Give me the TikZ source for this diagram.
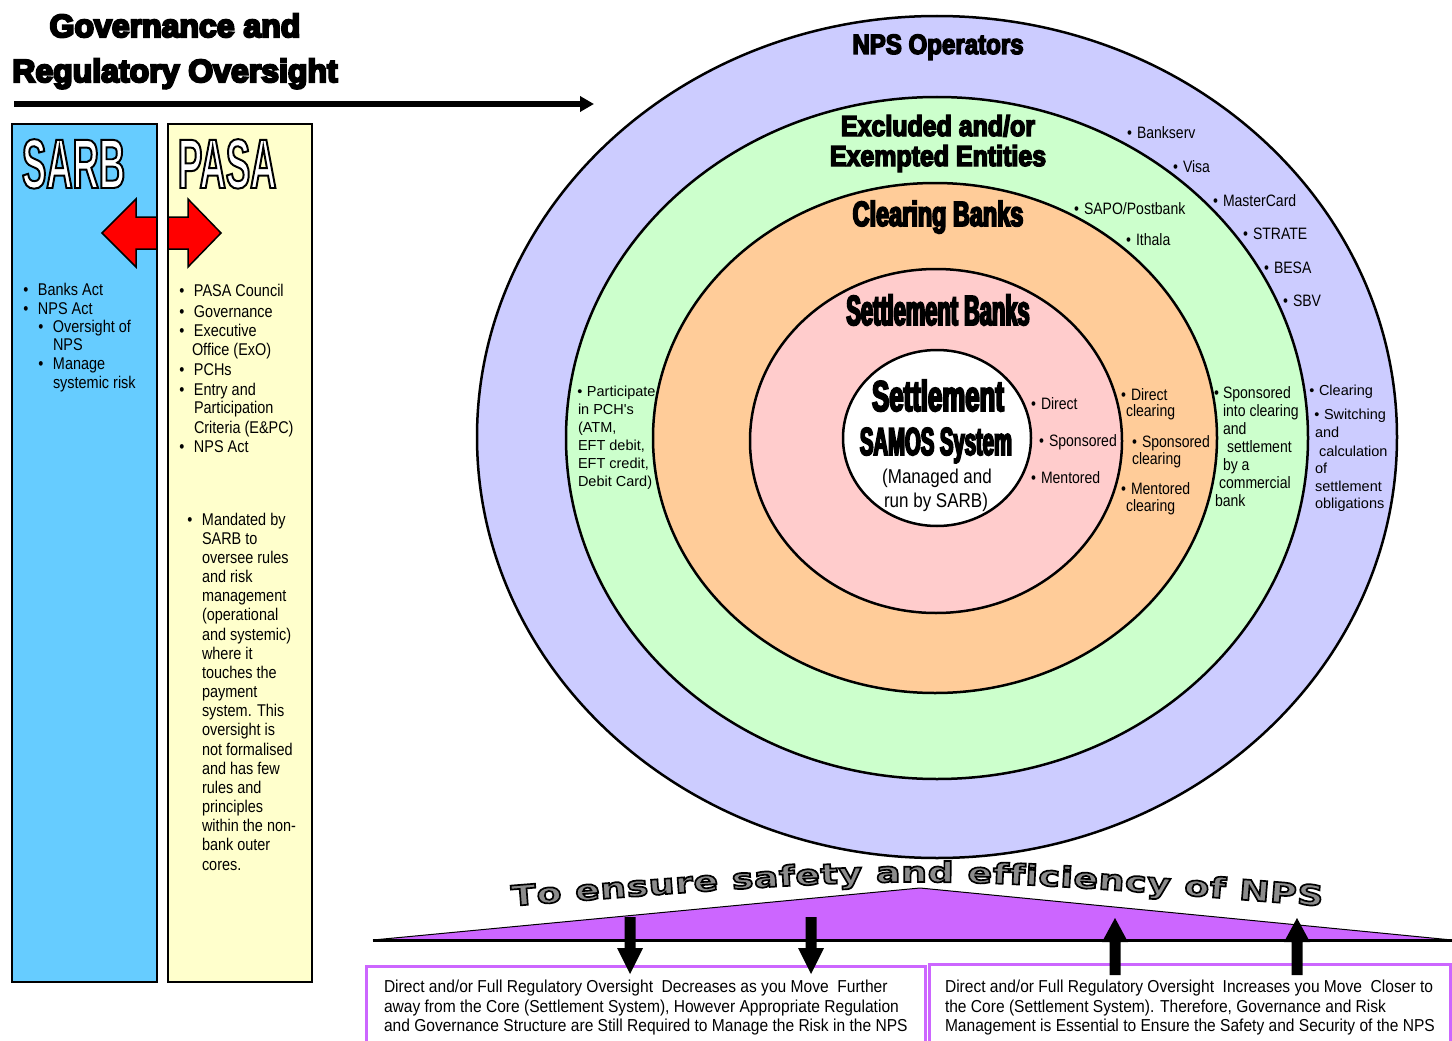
\documentclass[tikz,border=0pt]{standalone}
\usepackage{fontspec}
\usetikzlibrary{arrows.meta,calc,decorations.text}
\setmainfont{Liberation Sans}
\newfontfamily\nar{Liberation Sans}[FakeStretch=0.85]
\newfontfamily\boxf{Liberation Sans}[FakeStretch=0.9]
\newfontfamily\reg{Liberation Sans}
\newfontfamily\ttlf{Liberation Sans Bold}[FakeBold=7]
\newfontfamily\hdA{Liberation Sans Bold}[FakeStretch=0.86,FakeBold=5]
\newfontfamily\hdB{Liberation Sans Bold}[FakeStretch=0.67,FakeBold=5]
\newfontfamily\hdS{Liberation Sans Bold}[FakeStretch=0.52,FakeBold=4.5]
\newfontfamily\hdT{Liberation Sans Bold}[FakeStretch=0.6,FakeBold=4.5]
\newfontfamily\orgf{Liberation Sans Bold}[FakeStretch=0.52,FakeBold=2.8]
\newfontfamily\arcf{DejaVu Sans Bold}[FakeStretch=1.3,FakeBold=6]

\definecolor{sarbblue}{HTML}{66CCFF}
\definecolor{pasayel}{HTML}{FFFFCC}
\definecolor{ringop}{HTML}{CCCCFF}
\definecolor{ringex}{HTML}{CCFFCC}
\definecolor{ringcl}{HTML}{FFCC99}
\definecolor{ringst}{HTML}{FFCCCC}
\definecolor{triviolet}{HTML}{CC66FF}
\definecolor{arcgray}{HTML}{8C8C8C}

% bullet hung to the left of a line
\newcommand\blt[1][9.5pt]{\llap{\textbullet\hspace{#1}}}
% black stroke for emboldened (outlined) glyphs, fill keeps the text colour
\newcommand\inkedge{\special{pdf:literal direct 0 G}}

\tikzset{
  every node/.style={inner sep=0pt, outer sep=0pt},
  lst/.style={font=\nar\fontsize{17}{17}\selectfont, anchor=base west},
  sml/.style={font=\nar\fontsize{16.5}{16.5}\selectfont, anchor=base west},
  rsm/.style={font=\reg\fontsize{14.5}{14.5}\selectfont, anchor=base west},
  boxtxt/.style={font=\boxf\fontsize{17.3}{17.3}\selectfont, anchor=base west},
  ring/.style={draw=black, line width=2.5pt},
  orgtxt/.style={font=\orgf\fontsize{70}{70}\selectfont, anchor=base west, text=white},
  dnarr/.pic={\fill[black] (-5.5,0) -- (5.5,0) -- (5.5,31) -- (13,31) -- (0,57) -- (-13,31) -- (-5.5,31) -- cycle;},
  uparr/.pic={\fill[black] (0,0) -- (13,24) -- (5.5,24) -- (5.5,57) -- (-5.5,57) -- (-5.5,24) -- (-13,24) -- cycle;}
}

\begin{document}
\begin{tikzpicture}[x=1pt,y=-1pt]
\useasboundingbox (0,0) rectangle (1452,1041);
\fill[white] (0,0) rectangle (1452,1041);

% ---------- heading and direction arrow ----------
\node[font=\ttlf\fontsize{32}{32}\selectfont, anchor=base] (ttl1) at (175,37) {Governance and};
\node[font=\ttlf\fontsize{32}{32}\selectfont, anchor=base] (ttl2) at (175,82) {Regulatory Oversight};
\coordinate (govL) at (14,104);
\coordinate (govR) at (594,104);
\draw[line width=5.5pt, -{Triangle[length=14pt,width=15pt]}] (govL) -- (govR);

% ---------- SARB and PASA columns ----------
\node[draw=black, line width=2pt, fill=sarbblue, minimum width=145pt, minimum height=858pt, anchor=north west] (sarb) at (12,124) {};
\node[draw=black, line width=2pt, fill=pasayel, minimum width=144pt, minimum height=858pt, anchor=north west] (pasa) at (168,124) {};

\node[orgtxt] (sarbT) at (22,188) {\inkedge SARB};
\node[orgtxt] (pasaT) at (178,188) {\inkedge PASA};

% two-way link between the regulators
\draw[fill=red, draw=black, line width=1.5pt, line join=miter]
  (102,233) -- (136,199) -- (136,217) -- (188,217) -- (188,199) -- (221,233)
  -- (188,267) -- (188,249) -- (136,249) -- (136,267) -- cycle;
\fill[white] (158,216.2) rectangle (167,249.8);
\draw[line width=2pt] (157,216) -- (157,250) (168,216) -- (168,250);

% SARB duties
\foreach \x/\y/\t [count=\i] in {38/295/{\blt Banks Act}, 38/314/{\blt NPS Act},
    53/332/{\blt Oversight of}, 53/350/NPS, 53/369/{\blt Manage}, 53/388/systemic risk}
  \node[lst] (sarbl-\i) at (\x,\y) {\t};

% PASA structure
\foreach \x/\y/\t [count=\i] in {194/296/{\blt PASA Council}, 194/317/{\blt Governance},
    194/336/{\blt Executive}, 192/355/{Office (ExO)}, 194/375/{\blt PCHs},
    194/395/{\blt Entry and}, 194/413/Participation, 194/433/{Criteria (E\&PC)},
    194/452/{\blt NPS Act}}
  \node[lst] (pasal-\i) at (\x,\y) {\t};

% PASA mandate
\foreach \t [count=\i from 0] in {{\blt Mandated by}, {SARB to}, {oversee rules}, {and risk},
    {management}, {(operational}, {and systemic)}, {where it}, {touches the}, {payment},
    {system. This}, {oversight is}, {not formalised}, {and has few}, {rules and}, {principles},
    {within the non-}, {bank outer}, {cores.}}
  \node[lst] (pasam-\i) at (202,{525+19.17*\i}) {\t};

% ---------- concentric rings ----------
\draw[ring, fill=ringop] (937,437) ellipse [x radius=460, y radius=421];
\draw[ring, fill=ringex] (937,438) ellipse [x radius=371, y radius=341];
\draw[ring, fill=ringcl] (935,438) ellipse [x radius=282, y radius=255];
\draw[ring, fill=ringst] (936,441) ellipse [x radius=186, y radius=172];
\draw[ring, fill=white]  (937,438) ellipse [x radius=94, y radius=88];

% ring titles
\node[font=\hdA\fontsize{28}{28}\selectfont, anchor=base] (nps) at (938,54) {NPS Operators};
\node[font=\hdA\fontsize{29}{29}\selectfont, anchor=base] (exc1) at (938,136) {Excluded and/or};
\node[font=\hdA\fontsize{29}{29}\selectfont, anchor=base] (exc2) at (938,166) {Exempted Entities};
\node[font=\hdB\fontsize{35}{35}\selectfont, anchor=base] (clr) at (938,226) {Clearing Banks};
\node[font=\hdS\fontsize{42}{42}\selectfont, anchor=base] (stb) at (938,325) {Settlement Banks};
\node[font=\hdT\fontsize{43}{43}\selectfont, anchor=base] (core1) at (938,411) {Settlement};
\node[font=\hdS\fontsize{39}{39}\selectfont, anchor=base] (core2) at (936,455) {SAMOS System};
\node[font=\nar\fontsize{20}{20}\selectfont, anchor=base] (core3) at (937,483) {(Managed and};
\node[font=\nar\fontsize{20}{20}\selectfont, anchor=base] (core4) at (936,507) {run by SARB)};

% operators
\node[sml] (op1) at (1137,138) {\blt[5pt]Bankserv};
\node[sml] (op2) at (1183,172) {\blt[5pt]Visa};
\node[sml] (op3) at (1223,206) {\blt[5pt]MasterCard};
\node[sml] (op4) at (1253,239) {\blt[5pt]STRATE};
\node[sml] (op5) at (1274,273) {\blt[5pt]BESA};
\node[sml] (op6) at (1293,306) {\blt[5pt]SBV};
\node[rsm] (opr1) at (1319,395) {\blt[4.5pt]Clearing};
\node[rsm] (opr2) at (1324,419) {\blt[4.5pt]Switching};
\node[rsm] (opr3) at (1315,437) {and};
\node[rsm] (opr4) at (1319,456) {calculation};
\node[rsm] (opr5) at (1315,473) {of};
\node[rsm] (opr6) at (1315,491) {settlement};
\node[rsm] (opr7) at (1315,508) {obligations};

% excluded / exempted entities
\node[sml] (ex1) at (1084,214) {\blt[5pt]SAPO/Postbank};
\node[sml] (ex2) at (1136,245) {\blt[5pt]Ithala};
\node[rsm] (exl1) at (587,396) {\blt[4.5pt]Participate};
\node[rsm] (exl2) at (578,414) {in PCH's};
\node[rsm] (exl3) at (578,432) {(ATM,};
\node[rsm] (exl4) at (578,450) {EFT debit,};
\node[rsm] (exl5) at (578,468) {EFT credit,};
\node[rsm] (exl6) at (578,486) {Debit Card)};
\node[sml] (exr1) at (1223,398) {\blt[4pt]Sponsored};
\node[sml] (exr2) at (1223,416) {into clearing};
\node[sml] (exr3) at (1223,434) {and};
\node[sml] (exr4) at (1227,452) {settlement};
\node[sml] (exr5) at (1223,470) {by a};
\node[sml] (exr6) at (1219,488) {commercial};
\node[sml] (exr7) at (1215,506) {bank};

% clearing banks
\node[sml] (cl1) at (1131,400) {\blt[5pt]Direct};
\node[sml] (cl2) at (1126,416) {clearing};
\node[sml] (cl3) at (1142,447) {\blt[5pt]Sponsored};
\node[sml] (cl4) at (1132,464) {clearing};
\node[sml] (cl5) at (1131,494) {\blt[5pt]Mentored};
\node[sml] (cl6) at (1126,511) {clearing};

% settlement banks
\node[sml] (sb1) at (1041,409) {\blt[5pt]Direct};
\node[sml] (sb2) at (1049,446) {\blt[5pt]Sponsored};
\node[sml] (sb3) at (1041,483) {\blt[5pt]Mentored};

% ---------- balance beam ----------
\coordinate (beamL) at (373,940);
\coordinate (beamT) at (920,888);
\coordinate (beamR) at (1452,940);
\draw[fill=triviolet, line width=1pt, line join=miter] (beamL) -- (beamT) -- (beamR) -- cycle;
\draw[line width=3pt] (beamL) -- (beamR);

\coordinate (arcL) at (512,906);
\coordinate (arcC) at (917,874);
\coordinate (arcR) at (1322,906);
\path[decorate, decoration={text along path, text align={fit to path}, text color=arcgray,
  text={|\arcf\fontsize{28}{28}\selectfont\color{arcgray}\inkedge|To ensure safety and efficiency of NPS}}]
  (arcL) .. controls (arcC) .. (arcR);

% ---------- summary boxes ----------
\node[draw=triviolet, line width=3pt, minimum width=559pt, minimum height=90pt, anchor=north west] (boxL) at (366,966) {};
\node[draw=triviolet, line width=3pt, minimum width=521pt, minimum height=90pt, anchor=north west] (boxR) at (929,964) {};

\node[boxtxt] (bl1) at (384,992) {Direct and/or Full Regulatory Oversight\ \ Decreases as you Move\ \ Further};
\node[boxtxt] (bl2) at (384,1012) {away from the Core (Settlement System), However Appropriate Regulation};
\node[boxtxt] (bl3) at (384,1031) {and Governance Structure are Still Required to Manage the Risk in the NPS};
\node[boxtxt] (br1) at (945,992) {Direct and/or Full Regulatory Oversight\ \ Increases you Move\ \ Closer to};
\node[boxtxt] (br2) at (945,1012) {the Core (Settlement System). Therefore, Governance and Risk};
\node[boxtxt] (br3) at (945,1031) {Management is Essential to Ensure the Safety and Security of the NPS};

\pic at (630,917) {dnarr};
\pic at (811,917) {dnarr};
\pic at (1115,918) {uparr};
\pic at (1297,918) {uparr};
\end{tikzpicture}
\end{document}
